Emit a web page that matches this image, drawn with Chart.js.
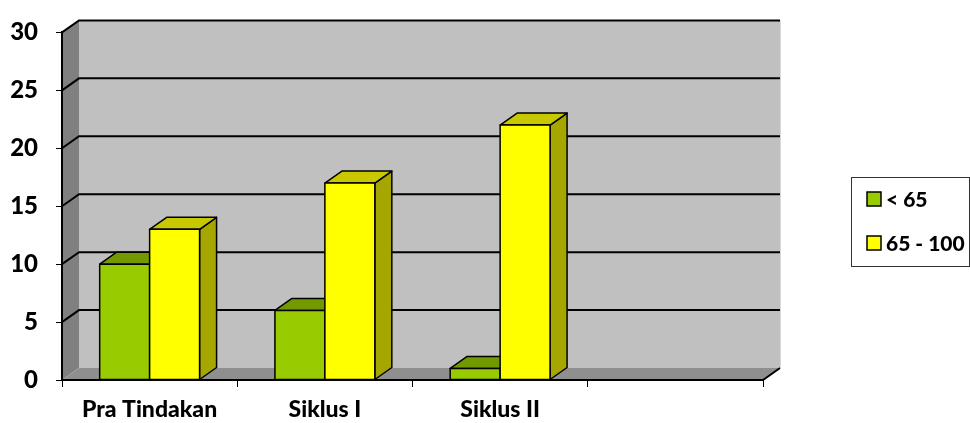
<!DOCTYPE html>
<html>
<head>
<meta charset="utf-8">
<title>Pra Tindakan / Siklus</title>
<script src="https://cdn.jsdelivr.net/npm/chart.js@4"></script>
<style>
  html, body { margin: 0; padding: 0; background: #fff; }
  #wrap { width: 970px; height: 423px; }
</style>
</head>
<body>
<div id="wrap"><canvas id="c" width="970" height="423"></canvas></div>
<script>
// data
var categories = ['Pra Tindakan', 'Siklus I', 'Siklus II', ''];
var seriesNames = ['< 65', '65 - 100'];
var lowValues = [10, 6, 1, null];
var highValues = [13, 17, 22, null];
var yMin = 0, yMax = 30, yStep = 5;

// colours: front, top, side
var COLORS = [
  { front: '#99cc00', top: '#739900', side: '#6b8f00' },
  { front: '#ffff00', top: '#c8c800', side: '#a6a600' }
];
var DX = 17, DY = -12; // depth of the 3d box

function poly(ctx, pts, fill, stroke, lw) {
  ctx.beginPath();
  ctx.moveTo(pts[0][0], pts[0][1]);
  for (var i = 1; i < pts.length; i++) ctx.lineTo(pts[i][0], pts[i][1]);
  ctx.closePath();
  if (fill) { ctx.fillStyle = fill; ctx.fill(); }
  if (stroke) { ctx.strokeStyle = stroke; ctx.lineWidth = lw || 1; ctx.stroke(); }
}

var box3d = {
  id: 'box3d',
  beforeDraw: function (chart) {
    var ctx = chart.ctx, a = chart.chartArea;
    var L = a.left, R = a.right, T = a.top, B = a.bottom;
    ctx.save();
    // back wall
    ctx.fillStyle = '#c0c0c0';
    ctx.fillRect(L + DX, T + DY, R - L, B - T);
    ctx.strokeStyle = '#d8d8d8'; ctx.lineWidth = 1;
    ctx.beginPath(); ctx.moveTo(R + DX + 0.5, T + DY); ctx.lineTo(R + DX + 0.5, B + DY); ctx.stroke();
    // left wall
    poly(ctx, [[L, T], [L + DX, T + DY], [L + DX, B + DY], [L, B]], '#808080');
    // floor
    poly(ctx, [[L, B], [L + DX, B + DY], [R + DX, B + DY], [R, B]], '#8f8f8f');
    ctx.strokeStyle = '#000'; ctx.lineWidth = 2;
    ctx.beginPath(); ctx.moveTo(L, B); ctx.lineTo(R, B); ctx.lineTo(R + DX, B + DY); ctx.stroke();
    ctx.restore();
  },
  beforeDatasetsDraw: function (chart) {
    var ctx = chart.ctx, a = chart.chartArea, ys = chart.scales.y;
    ctx.save();
    ctx.strokeStyle = '#000'; ctx.lineWidth = 2;
    ys.ticks.forEach(function (t) {
      if (t.value === yMin) return;
      var y = ys.getPixelForValue(t.value);
      ctx.beginPath();
      ctx.moveTo(a.left, y);
      ctx.lineTo(a.left + DX, y + DY);
      ctx.lineTo(a.right + DX, y + DY);
      ctx.stroke();
    });
    ctx.restore();
  },
  afterDatasetsDraw: function (chart) {
    var ctx = chart.ctx;
    ctx.save();
    ctx.lineJoin = 'round';
    for (var i = 0; i < categories.length; i++) {
      chart.data.datasets.forEach(function (ds, d) {
        if (ds.data[i] == null) return;
        var el = chart.getDatasetMeta(d).data[i];
        var x0 = el.x - el.width / 2, x1 = el.x + el.width / 2;
        var top = el.y, base = el.base, c = COLORS[d];
        poly(ctx, [[x1, top], [x1 + DX, top + DY], [x1 + DX, base + DY], [x1, base]], c.side, '#000', 1.5);
        poly(ctx, [[x0, top], [x0 + DX, top + DY], [x1 + DX, top + DY], [x1, top]], c.top, '#000', 1.5);
        poly(ctx, [[x0, top], [x1, top], [x1, base], [x0, base]], c.front, '#000', 1.5);
      });
    }
    ctx.restore();
  },
  afterDraw: function (chart) {
    var ctx = chart.ctx;
    ctx.save();
    // legend box
    ctx.fillStyle = '#fff';
    ctx.fillRect(851, 177, 118, 89);
    ctx.strokeStyle = '#333'; ctx.lineWidth = 1;
    ctx.strokeRect(851.5, 177.5, 118, 89);
    var rows = [199, 243];
    ctx.font = '900 21px Lato';
    ctx.textBaseline = 'middle';
    chart.data.datasets.forEach(function (ds, d) {
      var cy = rows[d];
      ctx.fillStyle = COLORS[d].front;
      ctx.fillRect(867, cy - 7, 14, 14);
      ctx.strokeStyle = '#000'; ctx.lineWidth = 1.5;
      ctx.strokeRect(867, cy - 7, 14, 14);
      ctx.fillStyle = '#000';
      ctx.fillText(ds.label, 886, cy + 1);
    });
    ctx.restore();
  }
};

Chart.defaults.font.family = 'Lato';
Chart.defaults.font.weight = 900;
Chart.defaults.font.size = 23;
Chart.defaults.color = '#000';

new Chart(document.getElementById('c'), {
  type: 'bar',
  data: {
    labels: categories,
    datasets: [
      { label: seriesNames[0], data: lowValues, backgroundColor: COLORS[0].front, borderColor: '#000', borderWidth: 0 },
      { label: seriesNames[1], data: highValues, backgroundColor: COLORS[1].front, borderColor: '#000', borderWidth: 0 }
    ]
  },
  options: {
    responsive: false,
    animation: false,
    layout: { padding: { top: 30, right: 207, left: 0, bottom: 0 } },
    datasets: { bar: { categoryPercentage: 0.57, barPercentage: 1 } },
    plugins: { legend: { display: false }, tooltip: { enabled: false } },
    scales: {
      x: {
        offset: true,
        grid: { offset: true, drawOnChartArea: false, drawTicks: true, tickLength: 7, color: '#000', lineWidth: 1 },
        border: { display: true, color: '#000', width: 2 },
        ticks: { padding: 9, maxRotation: 0, font: { size: 23, weight: 900 } },
        afterFit: function (s) { s.height = 43; }
      },
      y: {
        min: yMin, max: yMax,
        grid: { drawOnChartArea: false, drawTicks: true, tickLength: 6, color: '#000', lineWidth: 1 },
        border: { display: true, color: '#000', width: 2 },
        ticks: { stepSize: yStep, padding: 18, font: { size: 24, weight: 900 } },
        afterFit: function (s) { s.width = 62; }
      }
    }
  },
  plugins: [box3d]
});
</script>
</body>
</html>
